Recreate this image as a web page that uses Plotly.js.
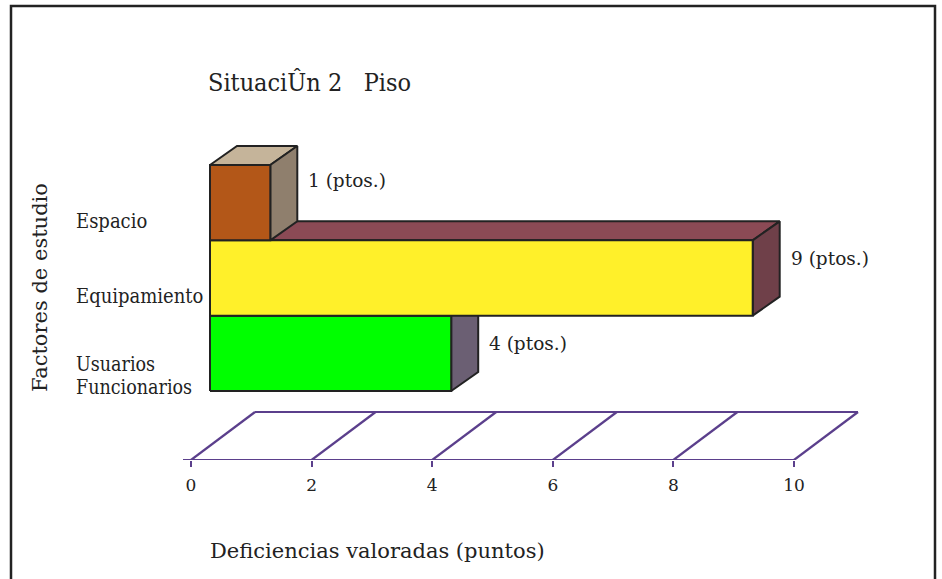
<!DOCTYPE html>
<html>
<head>
<meta charset="utf-8">
<script src="https://cdn.plot.ly/plotly-3.0.1.min.js"></script>
<style>html,body{margin:0;padding:0;background:#fff;}#chart{width:942px;height:579px;}</style>
</head>
<body>
<div id="chart"></div>
<script>
// ---- data ----
var categories = ['Espacio', 'Equipamiento', 'Usuarios<br>Funcionarios'];
var categoryPos = [2, 1, 0];
var values = [1, 9, 4];
var valueLabels = ['1 (ptos.)', '9 (ptos.)', '4 (ptos.)'];
var tickVals = [0, 2, 4, 6, 8, 10];
var tickText = ['0', '2', '4', '6', '8', '10'];
var chartTitle = 'SituaciÛn 2\u00A0\u00A0 Piso';
var xTitle = 'Deficiencias valoradas (puntos)';
var yTitle = 'Factores de estudio';

// ---- styling / geometry ----
var frontColors = ['#B35718', '#FFF02A', '#00FF00'];
var topColors   = ['#C5B49A', '#8B4A55', '#6B5F73'];
var sideColors  = ['#8F7F6D', '#6F4049', '#6B5F73'];
var edge = '#222222';
var floorColor = '#5B3F8C';
var FONT_C = '"DejaVu Serif Condensed", "DejaVu Serif", serif';
var FONT_R = '"DejaVu Serif", serif';

var W = 942, H = 579;
var ml = 150, mr = 60, mt = 40, mb = 119;
var PX0 = 191, PXU = 60.3;       // pixel of x=0, pixels per unit
var PY0 = 353.3, PYU = 75.3;      // pixel of y=0, pixels per unit
var xr = [(ml - PX0) / PXU, (W - mr - PX0) / PXU];
var yr = [(PY0 - (H - mb)) / PYU, (PY0 - mt) / PYU];
var BASE = (210 - PX0) / PXU;     // bar start offset
var DX = 27 / PXU, DY = 19 / PYU; // bar depth
var FDX = 64 / PXU, FDY = 48 / PYU; // floor depth
var YF = yr[0];                   // floor front line
function pxX(p) { return (p - ml) / (W - ml - mr); }
function pxY(p) { return 1 - (p - mt) / (H - mt - mb); }

var traces = [];
// floor grid
var fx = [], fy = [];
fx.push(-8 / PXU, tickVals[tickVals.length - 1], null);
fy.push(YF, YF, null);
fx.push(tickVals[0] + FDX, tickVals[tickVals.length - 1] + FDX, null);
fy.push(YF + FDY, YF + FDY, null);
tickVals.forEach(function (t) { fx.push(t, t + FDX, null); fy.push(YF, YF + FDY, null); });
traces.push({type: 'scatter', mode: 'lines', x: fx, y: fy, line: {color: floorColor, width: 2.2}, hoverinfo: 'skip'});

function poly(xs, ys, color) {
  traces.push({type: 'scatter', mode: 'lines', fill: 'toself', fillcolor: color,
    x: xs.concat([xs[0]]), y: ys.concat([ys[0]]),
    line: {color: edge, width: 2}, hoverinfo: 'skip'});
}
// draw from bottom bar to top bar
for (var k = categories.length - 1; k >= 0; k--) {
  var v = values[k], c = categoryPos[k];
  var x0 = BASE, x1 = BASE + v, y0 = c - 0.5, y1 = c + 0.5;
  poly([x0, x1, x1 + DX, x0 + DX], [y1, y1, y1 + DY, y1 + DY], topColors[k]);
  poly([x1, x1 + DX, x1 + DX, x1], [y0, y0 + DY, y1 + DY, y1], sideColors[k]);
  poly([x0, x1, x1, x0], [y0, y0, y1, y1], frontColors[k]);
}

var labelShift = [22, 20, 10];
var annotations = [];
categories.forEach(function (cat, k) {
  var lines = cat.split('<br>');
  var multi = lines.length > 1;
  lines.forEach(function (ln, j) {
    annotations.push({xref: 'paper', yref: 'y', x: pxX(74), y: categoryPos[k],
      yshift: multi ? (-11.5 - 23 * j) : -18,
      xanchor: 'left', yanchor: 'middle', align: 'left', showarrow: false, text: ln,
      font: {family: FONT_C, size: multi ? 19.5 : 20, color: '#222'}});
  });
  annotations.push({xref: 'x', yref: 'y', x: BASE + values[k] + DX, y: categoryPos[k],
    xshift: 9, yshift: labelShift[k], xanchor: 'left', yanchor: 'middle', showarrow: false,
    text: valueLabels[k], font: {family: FONT_R, size: 18.5, color: '#222'}});
});
annotations.push({xref: 'paper', yref: 'paper', x: pxX(208), y: pxY(551), xanchor: 'left', yanchor: 'middle',
  showarrow: false, text: xTitle, font: {family: FONT_R, size: 21, color: '#222'}});
annotations.push({xref: 'paper', yref: 'paper', x: pxX(40), y: pxY(288), xanchor: 'center', yanchor: 'middle',
  textangle: -90, showarrow: false, text: yTitle, font: {family: FONT_R, size: 21, color: '#222'}});

var layout = {
  width: W, height: H,
  margin: {l: ml, r: mr, t: mt, b: mb},
  paper_bgcolor: '#fff', plot_bgcolor: 'rgba(0,0,0,0)',
  showlegend: false,
  title: {text: chartTitle, xref: 'container', yref: 'container', x: 208 / W, xanchor: 'left',
    y: 1 - 82 / H, yanchor: 'middle', font: {family: FONT_C, size: 25, color: '#222'}},
  xaxis: {range: xr, fixedrange: true, tickvals: tickVals, ticktext: tickText, ticks: 'outside',
    ticklen: 6, tickwidth: 2, tickcolor: floorColor, showgrid: false, zeroline: false, showline: false,
    ticklabelstandoff: 4, tickfont: {family: FONT_R, size: 17, color: '#222'}},
  yaxis: {range: yr, fixedrange: true, visible: false},
  annotations: annotations,
  shapes: [{type: 'rect', xref: 'paper', yref: 'paper', x0: pxX(11), x1: pxX(935), y0: pxY(600), y1: pxY(6),
    line: {color: '#222', width: 2.5}, layer: 'below'}]
};

Plotly.newPlot('chart', traces, layout, {staticPlot: true, displayModeBar: false});
</script>
</body>
</html>
